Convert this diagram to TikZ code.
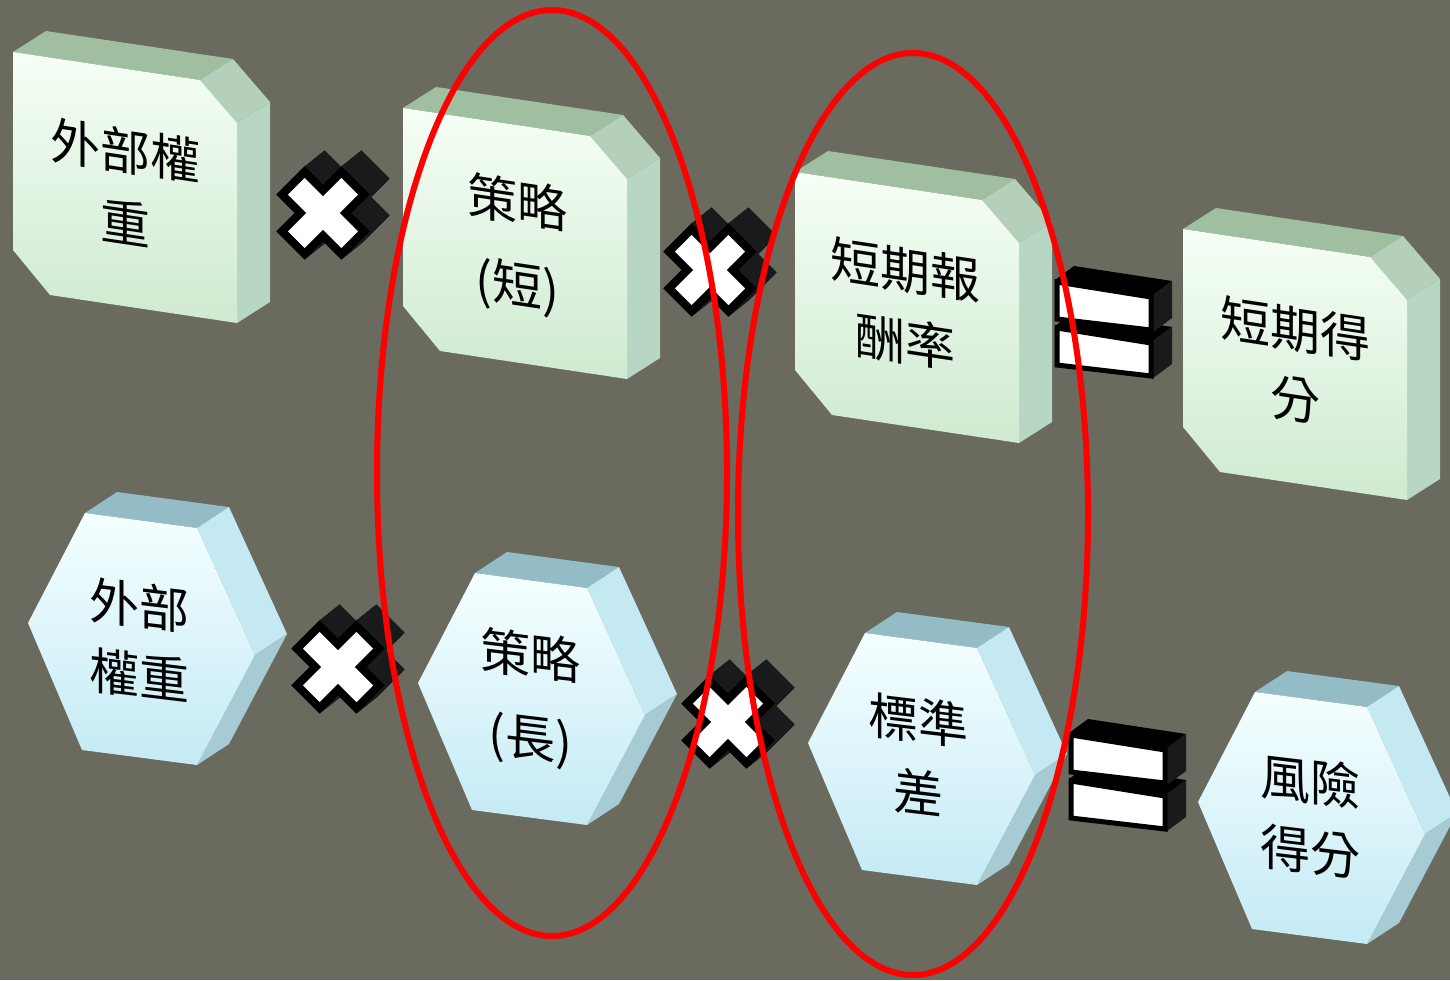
\documentclass[tikz,border=0pt]{standalone}
\usepackage{fontspec}
\newfontfamily\cjk{Noto Sans CJK TC}
\definecolor{bg}{RGB}{106,106,94}
\definecolor{gTop}{RGB}{159,191,160}
\definecolor{gBev}{RGB}{180,208,186}
\definecolor{gSide}{RGB}{183,214,196}
\definecolor{gF1}{RGB}{246,255,246}
\definecolor{gF2}{RGB}{206,234,208}
\definecolor{hTop}{RGB}{147,188,198}
\definecolor{hUp}{RGB}{196,233,243}
\definecolor{hLow}{RGB}{166,203,212}
\definecolor{hF1}{RGB}{245,255,255}
\definecolor{hF2}{RGB}{196,234,245}
\definecolor{xBack}{RGB}{24,26,28}
\tikzset{
  lblstyle/.style={align=center, text=black, inner sep=0pt},
  ring/.style={draw=red, line width=6pt},
}
\newcommand\gbox[2]{%
  \begin{scope}[shift={(#1,#2)}]
    \fill[gTop] (0,0) -- (187,28) -- (220,7) -- (33,-21) -- cycle;
    \fill[gBev] (187,28) -- (224,71) -- (257,50) -- (220,7) -- cycle;
    \fill[gSide] (224,71) -- (224,271) -- (257,250) -- (257,50) -- cycle;
    \shade[top color=gF1, bottom color=gF2] (0,0) -- (187,28) -- (224,71) -- (224,271) -- (37,243) -- (0,198) -- cycle;
  \end{scope}}
\newcommand\bluehex[2]{%
  \begin{scope}[shift={(#1,#2)}]
    \fill[hTop] (0,0) -- (112,15) -- (144,-6) -- (32,-21) -- cycle;
    \fill[hUp] (112,15) -- (170,142) -- (202,121) -- (144,-6) -- cycle;
    \fill[hLow] (170,142) -- (112,252) -- (144,231) -- (202,121) -- cycle;
    \shade[top color=hF1, bottom color=hF2] (0,0) -- (112,15) -- (170,142) -- (112,252) -- (-3,237) -- (-57,110) -- cycle;
  \end{scope}}
\newcommand\plusp[1]{\path[#1] (16,42) -- (16,16) -- (42,16) -- (42,-16) -- (16,-16) -- (16,-42) -- (-16,-42) -- (-16,-16) -- (-42,-16) -- (-42,16) -- (-16,16) -- (-16,42) -- cycle;}
\newcommand\xsym[2]{%
  \foreach \t in {20,19,...,1}{\plusp{fill=xBack, draw=xBack, line width=8pt, shift={(#1+\t,#2-0.8*\t)}, rotate=45}}
  \plusp{fill=white, draw=black, line width=8pt, shift={(#1,#2)}, rotate=45}}
\newcommand\eqbar[2]{%
  \begin{scope}[shift={(#1,#2)}]
    \fill[black] (0,0) -- (98,15) -- (117,1) -- (19,-14) -- cycle;
    \fill[xBack] (98,15) -- (98,52) -- (117,38) -- (117,1) -- cycle;
    \filldraw[fill=white, draw=black, line width=5pt] (2,2) -- (96,17) -- (96,50) -- (2,39) -- cycle;
  \end{scope}}
\newcommand\eqsym[2]{\eqbar{#1}{#2+46}\eqbar{#1}{#2}}
\newcommand\lbl[6]{% name x y slant skip text
  \begin{scope}[shift={(#2,#3)}]
    \node[lblstyle, yslant=#4, font=\cjk\fontsize{50}{#5}\selectfont] (#1) at (0,0) {#6};
  \end{scope}}
\begin{document}
\begin{tikzpicture}[x=1pt, y=-1pt]
  \fill[bg] (0,0) rectangle (1450,980);
  \useasboundingbox (0,0) rectangle (1450,980);
  % green boxes
  \gbox{13}{52}
  \gbox{403}{108}
  \gbox{795}{172}
  \gbox{1183}{229}
  % blue hexagons
  \bluehex{85}{513}
  \bluehex{475}{573}
  \bluehex{865}{633}
  \bluehex{1255}{692}
  % symbols
  \xsym{323}{213}
  \xsym{710}{270}
  \xsym{338}{667}
  \xsym{728}{722}
  \eqsym{1055}{280}
  \eqsym{1069}{733}
  % labels
  \lbl{g1}{125}{186}{-0.15}{72}{外部權\\重}
  \lbl{g2}{517}{246}{-0.15}{82}{策略\\(短)}
  \lbl{g3}{905}{306}{-0.15}{72}{短期報\\酬率}
  \lbl{g4}{1295}{364}{-0.15}{70}{短期得\\分}
  \lbl{h1}{139}{640}{-0.12}{70}{外部\\權重}
  \lbl{h2}{530}{699}{-0.12}{82}{策略\\(長)}
  \lbl{h3}{918}{756}{-0.12}{72}{標準\\差}
  \lbl{h4}{1310}{816}{-0.12}{70}{風險\\得分}
  % red ellipses
  \draw[ring] (552,473) ellipse [x radius=175, y radius=463];
  \draw[ring] (913,514) ellipse [x radius=175, y radius=461];
\end{tikzpicture}
\end{document}
